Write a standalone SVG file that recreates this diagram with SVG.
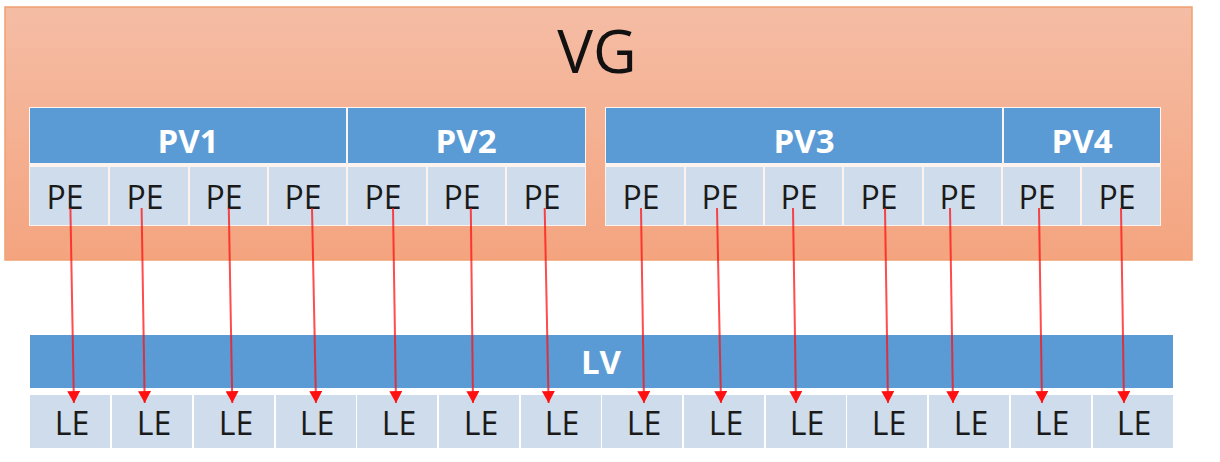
<svg xmlns="http://www.w3.org/2000/svg" width="1220" height="462" viewBox="0 0 1220 462">
  <defs>
    <linearGradient id="vgGrad" x1="0" y1="0" x2="0" y2="1">
      <stop offset="0" stop-color="#F5BDA5"/>
      <stop offset="1" stop-color="#F4A47F"/>
    </linearGradient>
    <marker id="arrow" markerUnits="userSpaceOnUse" markerWidth="13" markerHeight="13" viewBox="0 0 12 12" refX="11" refY="6" orient="auto">
      <path d="M0,0 L11,6 L0,12 Z" fill="#FF1010"/>
    </marker>
    <style>
      .bar { fill: #5B9BD5; }
      .cell { fill: #CFDCEC; }
      .back { fill: #FFFFFF; fill-opacity: 0.85; }
      .barText { font-family: "Open Sans", "Noto Sans", sans-serif; font-weight: bold; font-size: 33px; fill: #FFFFFF; text-anchor: middle; }
      .cellText { font-family: "Open Sans", "Noto Sans", sans-serif; font-size: 32px; fill: #1A1A1A; text-anchor: middle; }
      .vgText { font-family: "Open Sans", "Noto Sans", sans-serif; font-size: 60px; fill: #111111; text-anchor: middle; }
      .conn { stroke: #FF1010; stroke-opacity: 0.75; stroke-width: 2; fill: none; }
    </style>
  </defs>

  <rect width="1220" height="462" fill="#FFFFFF"/>

  <g id="VG">
    <rect x="5" y="7" width="1187" height="253" fill="url(#vgGrad)" stroke="#F0A070" stroke-width="1.5"/>
    <text class="vgText" x="597" y="73">VG</text>
  </g>

  <g id="groupLeft">
    <rect class="back" x="29" y="107" width="557" height="119"/>
  </g>
  <g id="groupRight">
    <rect class="back" x="605" y="107" width="556" height="119"/>
  </g>

  <g id="PV1">
    <rect class="bar" x="30" y="108" width="316" height="55"/>
    <text class="barText" x="188" y="153">PV1</text>
  </g>
  <g id="PV2">
    <rect class="bar" x="348" y="108" width="237" height="55"/>
    <text class="barText" x="466" y="153">PV2</text>
  </g>
  <g id="PV3">
    <rect class="bar" x="606" y="108" width="396" height="55"/>
    <text class="barText" x="804" y="153">PV3</text>
  </g>
  <g id="PV4">
    <rect class="bar" x="1004" y="108" width="156" height="55"/>
    <text class="barText" x="1082" y="153">PV4</text>
  </g>

  <g id="PE1"><rect class="cell" x="30" y="167" width="78" height="58"/><text class="cellText" x="65" y="209">PE</text></g>
  <g id="PE2"><rect class="cell" x="110" y="167" width="78" height="58"/><text class="cellText" x="145" y="209">PE</text></g>
  <g id="PE3"><rect class="cell" x="190" y="167" width="77" height="58"/><text class="cellText" x="224" y="209">PE</text></g>
  <g id="PE4"><rect class="cell" x="269" y="167" width="77" height="58"/><text class="cellText" x="303" y="209">PE</text></g>
  <g id="PE5"><rect class="cell" x="348" y="167" width="78" height="58"/><text class="cellText" x="383" y="209">PE</text></g>
  <g id="PE6"><rect class="cell" x="428" y="167" width="77" height="58"/><text class="cellText" x="462" y="209">PE</text></g>
  <g id="PE7"><rect class="cell" x="507" y="167" width="78" height="58"/><text class="cellText" x="542" y="209">PE</text></g>
  <g id="PE8"><rect class="cell" x="606" y="167" width="78" height="58"/><text class="cellText" x="641" y="209">PE</text></g>
  <g id="PE9"><rect class="cell" x="686" y="167" width="77" height="58"/><text class="cellText" x="720" y="209">PE</text></g>
  <g id="PE10"><rect class="cell" x="765" y="167" width="77" height="58"/><text class="cellText" x="799" y="209">PE</text></g>
  <g id="PE11"><rect class="cell" x="844" y="167" width="78" height="58"/><text class="cellText" x="879" y="209">PE</text></g>
  <g id="PE12"><rect class="cell" x="924" y="167" width="77" height="58"/><text class="cellText" x="958" y="209">PE</text></g>
  <g id="PE13"><rect class="cell" x="1003" y="167" width="77" height="58"/><text class="cellText" x="1037" y="209">PE</text></g>
  <g id="PE14"><rect class="cell" x="1082" y="167" width="78" height="58"/><text class="cellText" x="1117" y="209">PE</text></g>

  <g id="LV">
    <rect class="bar" x="30" y="335" width="1143" height="53"/>
    <text class="barText" x="601" y="374">LV</text>
  </g>

  <g id="LE1"><rect class="cell" x="30" y="395" width="80" height="53"/><text class="cellText" x="72" y="435">LE</text></g>
  <g id="LE2"><rect class="cell" x="112" y="395" width="80" height="53"/><text class="cellText" x="154" y="435">LE</text></g>
  <g id="LE3"><rect class="cell" x="194" y="395" width="80" height="53"/><text class="cellText" x="236" y="435">LE</text></g>
  <g id="LE4"><rect class="cell" x="276" y="395" width="80" height="53"/><text class="cellText" x="317" y="435">LE</text></g>
  <g id="LE5"><rect class="cell" x="357" y="395" width="80" height="53"/><text class="cellText" x="399" y="435">LE</text></g>
  <g id="LE6"><rect class="cell" x="439" y="395" width="80" height="53"/><text class="cellText" x="481" y="435">LE</text></g>
  <g id="LE7"><rect class="cell" x="521" y="395" width="80" height="53"/><text class="cellText" x="562" y="435">LE</text></g>
  <g id="LE8"><rect class="cell" x="602" y="395" width="80" height="53"/><text class="cellText" x="644" y="435">LE</text></g>
  <g id="LE9"><rect class="cell" x="684" y="395" width="80" height="53"/><text class="cellText" x="726" y="435">LE</text></g>
  <g id="LE10"><rect class="cell" x="766" y="395" width="80" height="53"/><text class="cellText" x="807" y="435">LE</text></g>
  <g id="LE11"><rect class="cell" x="847" y="395" width="80" height="53"/><text class="cellText" x="889" y="435">LE</text></g>
  <g id="LE12"><rect class="cell" x="929" y="395" width="80" height="53"/><text class="cellText" x="971" y="435">LE</text></g>
  <g id="LE13"><rect class="cell" x="1011" y="395" width="80" height="53"/><text class="cellText" x="1052" y="435">LE</text></g>
  <g id="LE14"><rect class="cell" x="1093" y="395" width="80" height="53"/><text class="cellText" x="1134" y="435">LE</text></g>

  <g id="connectors">
    <line class="conn" x1="70.4" y1="208" x2="73.9" y2="403" marker-end="url(#arrow)"/>
    <line class="conn" x1="141.6" y1="208" x2="144.7" y2="403" marker-end="url(#arrow)"/>
    <line class="conn" x1="228.8" y1="208" x2="232.3" y2="403" marker-end="url(#arrow)"/>
    <line class="conn" x1="312" y1="208" x2="316" y2="403" marker-end="url(#arrow)"/>
    <line class="conn" x1="393" y1="208" x2="396" y2="403" marker-end="url(#arrow)"/>
    <line class="conn" x1="470.8" y1="208" x2="473" y2="403" marker-end="url(#arrow)"/>
    <line class="conn" x1="544.7" y1="208" x2="548.6" y2="403" marker-end="url(#arrow)"/>
    <line class="conn" x1="641" y1="208" x2="644" y2="403" marker-end="url(#arrow)"/>
    <line class="conn" x1="717" y1="208" x2="721" y2="403" marker-end="url(#arrow)"/>
    <line class="conn" x1="793" y1="208" x2="796" y2="403" marker-end="url(#arrow)"/>
    <line class="conn" x1="885" y1="208" x2="888" y2="403" marker-end="url(#arrow)"/>
    <line class="conn" x1="950" y1="208" x2="953" y2="403" marker-end="url(#arrow)"/>
    <line class="conn" x1="1039" y1="208" x2="1042" y2="403" marker-end="url(#arrow)"/>
    <line class="conn" x1="1121" y1="208" x2="1124" y2="403" marker-end="url(#arrow)"/>
  </g>
</svg>
